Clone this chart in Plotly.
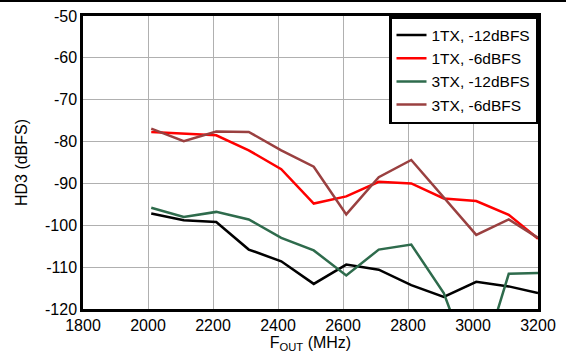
import plotly.graph_objects as go

freq = [2010, 2110, 2210, 2310, 2410, 2510, 2610, 2710, 2810, 2910, 3010, 3110, 3200]
tx1_m12 = [-97.2, -98.8, -99.2, -105.8, -108.6, -114.0, -109.4, -110.6, -114.3, -117.1, -113.5, -114.6, -116.2]
tx1_m6 = [-77.7, -78.1, -78.5, -82.1, -86.6, -94.8, -93.1, -89.6, -90.0, -93.6, -94.2, -97.5, -103.2]
tx3_m12 = [-95.8, -98.0, -96.8, -98.6, -103.0, -106.0, -112.0, -105.8, -104.6, -116.2, -137.0, -111.6, -111.4]
tx3_m6 = [-76.9, -79.9, -77.6, -77.7, -82.1, -86.0, -97.4, -88.5, -84.4, -93.3, -102.3, -98.6, -103.0]

names = ["1TX, -12dBFS", "1TX, -6dBFS", "3TX, -12dBFS", "3TX, -6dBFS"]
colors = ["#000000", "#FF0000", "#2E6B4C", "#9A4040"]
series = [tx1_m12, tx1_m6, tx3_m12, tx3_m6]

x_ticks = [1800, 2000, 2200, 2400, 2600, 2800, 3000, 3200]
y_ticks = [-50, -60, -70, -80, -90, -100, -110, -120]
y_tick_labels = ["-50", "-60", "-70", "-80", "-90", "-100", "-110", "-120"]

fig = go.Figure()
for n, c, s in zip(names, colors, series):
    fig.add_trace(go.Scatter(x=freq, y=s, mode="lines", name=n,
                             line=dict(color=c, width=2.5)))

fig.update_layout(
    width=566, height=354,
    margin=dict(l=83, r=28, t=16, b=45, autoexpand=False),
    paper_bgcolor="white", plot_bgcolor="white",
    font=dict(family="Liberation Sans, Arial, sans-serif", size=16, color="black"),
    showlegend=True,
    legend=dict(x=1, y=1, xanchor="right", yanchor="top",
                bgcolor="white", bordercolor="black", borderwidth=2.5,
                font=dict(size=15.5), tracegroupgap=0, itemwidth=30),
    xaxis=dict(range=[1800, 3200], tickvals=x_ticks, ticks="", automargin=False,
               showgrid=True, gridcolor="#b0b0b0", gridwidth=1,
               showline=True, linecolor="black", linewidth=2.5, mirror=True,
               zeroline=False, tickfont=dict(size=16),
               title=dict(text="F<sub>OUT</sub> (MHz)", standoff=2, font=dict(size=16))),
    yaxis=dict(range=[-120, -50], tickvals=y_ticks, ticktext=y_tick_labels, ticks="",
               automargin=False,
               showgrid=True, gridcolor="#b0b0b0", gridwidth=1,
               showline=True, linecolor="black", linewidth=2.5, mirror=True,
               zeroline=False, tickfont=dict(size=16),
               title=dict(text="HD3 (dBFS)", standoff=14, font=dict(size=16))),
)

ph = 354 - 16 - 45
pw = 566 - 83 - 28
fig.add_shape(type="line", xref="paper", yref="paper",
              x0=-83 / pw, x1=1 + 28 / pw, y0=1 + 15.0 / ph, y1=1 + 15.0 / ph,
              line=dict(color="black", width=2))

fig.write_html("out.html", config={"displayModeBar": False},
               post_script="document.body.style.margin='0';")
